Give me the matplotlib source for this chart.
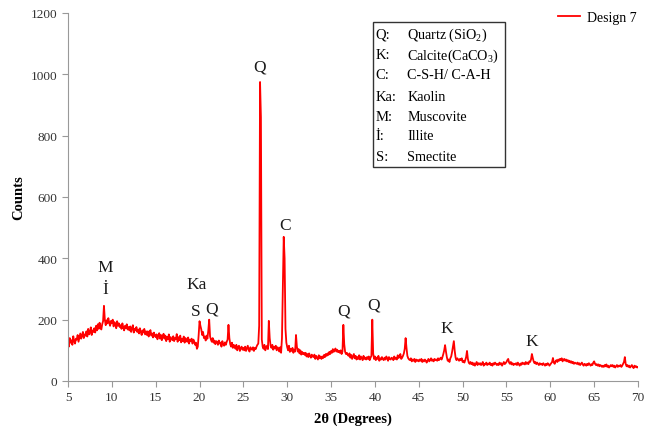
import numpy as np
import matplotlib
matplotlib.use("Agg")
import matplotlib.pyplot as plt
from matplotlib.patches import Rectangle

plt.rcParams["font.family"] = ["Liberation Serif", "DejaVu Serif"]
plt.rcParams["mathtext.fontset"] = "custom"
plt.rcParams["mathtext.rm"] = "Liberation Serif"

# XRD pattern, Design 7 -- 2theta grid from 5 to 70 deg in 0.1 deg steps
theta_start = 5.0
theta_step = 0.1
counts = [
    128, 112, 140, 125, 133, 118, 146, 130, 122, 138,   # 5
    135, 150, 128, 142, 155, 138, 148, 160, 140, 152,   # 6
    148, 162, 145, 170, 152, 158, 175, 150, 165, 160,   # 7
    172, 158, 180, 165, 185, 170, 190, 175, 168, 185,   # 8
    195, 245, 200, 182, 198, 188, 205, 190, 180, 196,   # 9
    188, 200, 178, 192, 185, 172, 195, 180, 188, 176,   # 10
    182, 170, 188, 175, 165, 180, 172, 185, 168, 176,   # 11
    165, 178, 160, 172, 182, 158, 170, 165, 176, 160,   # 12
    168, 155, 172, 160, 150, 165, 158, 170, 152, 162,   # 13
    150, 162, 145, 158, 166, 148, 155, 142, 158, 148,   # 14
    143, 152, 136, 148, 156, 138, 150, 133, 146, 154,   # 15
    138, 148, 130, 144, 136, 152, 128, 143, 138, 133,   # 16
    146, 130, 140, 136, 153, 128, 143, 133, 148, 126,   # 17
    138, 130, 145, 125, 140, 132, 128, 142, 122, 135,   # 18
    130, 138, 122, 135, 128, 118, 125, 105, 112, 150,   # 19
    195, 180, 168, 150, 160, 140, 145, 132, 148, 138,   # 20
    165, 200, 145, 135, 128, 140, 125, 132, 120, 130,   # 21
    128, 118, 132, 122, 125, 112, 130, 120, 115, 126,   # 22
    118, 128, 135, 183, 140, 120, 112, 125, 108, 118,   # 23
    112, 105, 118, 100, 110, 115, 98, 108, 112, 102,    # 24
    108, 100, 112, 98, 106, 115, 102, 96, 110, 104,     # 25
    102, 110, 98, 108, 104, 112, 118, 122, 180, 975,    # 26
    860, 135, 112, 105, 118, 100, 110, 115, 104, 196,   # 27
    140, 115, 108, 118, 102, 112, 106, 115, 100, 110,   # 28
    104, 96, 110, 92, 140, 300, 470, 400, 170, 125,     # 29
    110, 100, 115, 95, 105, 98, 108, 92, 102, 96,       # 30
    150, 112, 96, 104, 90, 100, 86, 95, 88, 92,         # 31
    85, 92, 80, 88, 78, 90, 82, 76, 86, 80,             # 32
    78, 86, 72, 82, 76, 70, 84, 74, 80, 72,             # 33
    80, 75, 85, 78, 88, 82, 90, 85, 95, 88,             # 34
    98, 92, 104, 95, 100, 106, 96, 102, 94, 98,         # 35
    92, 100, 88, 96, 183, 120, 95, 88, 92, 85,          # 36
    82, 90, 76, 85, 72, 80, 88, 74, 82, 70,             # 37
    78, 72, 84, 70, 80, 74, 68, 82, 72, 76,             # 38
    70, 78, 72, 80, 68, 76, 82, 200, 90, 72,            # 39
    80, 68, 76, 72, 82, 66, 74, 70, 78, 72,             # 40
    68, 76, 70, 80, 74, 66, 78, 72, 70, 76,             # 41
    74, 68, 80, 72, 76, 70, 84, 75, 80, 88,             # 42
    72, 76, 82, 90, 105, 140, 108, 82, 74, 70,          # 43
    68, 74, 64, 70, 66, 72, 62, 70, 66, 68,             # 44
    64, 70, 66, 72, 62, 68, 64, 70, 66, 60,             # 45
    66, 72, 64, 68, 74, 66, 70, 64, 72, 68,             # 46
    70, 66, 74, 68, 72, 76, 70, 78, 88, 100,            # 47
    117, 96, 78, 66, 70, 62, 74, 80, 95, 112,           # 48
    130, 98, 76, 68, 74, 70, 66, 72, 68, 74,            # 49
    62, 66, 60, 68, 78, 98, 72, 60, 56, 62,             # 50
    55, 60, 52, 58, 50, 56, 62, 52, 58, 54,             # 51
    58, 52, 56, 62, 50, 56, 54, 60, 52, 57,             # 52
    54, 60, 52, 56, 50, 58, 54, 60, 56, 52,             # 53
    56, 52, 60, 54, 58, 50, 56, 62, 55, 58,             # 54
    62, 68, 72, 60, 56, 62, 54, 58, 52, 56,             # 55
    54, 58, 52, 60, 55, 50, 57, 53, 60, 56,             # 56
    58, 54, 62, 56, 60, 55, 64, 62, 70, 88,             # 57
    75, 64, 58, 62, 55, 60, 56, 52, 58, 54,             # 58
    56, 52, 58, 54, 50, 56, 52, 58, 55, 50,             # 59
    54, 58, 62, 75, 60, 56, 64, 68, 62, 70,             # 60
    66, 72, 68, 74, 64, 70, 72, 66, 70, 64,             # 61
    68, 62, 66, 60, 64, 58, 62, 56, 60, 58,             # 62
    56, 60, 54, 58, 52, 56, 60, 54, 50, 56,             # 63
    54, 50, 56, 52, 58, 54, 50, 55, 52, 60,             # 64
    64, 56, 52, 55, 50, 54, 48, 52, 50, 46,             # 65
    50, 46, 52, 48, 54, 46, 50, 44, 48, 52,             # 66
    48, 52, 46, 50, 44, 48, 52, 46, 50, 48,             # 67
    52, 46, 50, 56, 62, 78, 55, 48, 52, 46,             # 68
    50, 44, 48, 52, 46, 42, 50, 46, 48, 44,             # 69
    45,                                                 # 70
]

# phase labels over the peaks
peak_labels = ["M", "İ", "Ka", "S", "Q", "Q", "C", "Q", "Q", "K", "K"]
peak_label_x = [9.2, 9.2, 19.7, 19.6, 21.4, 26.9, 29.7, 36.4, 39.8, 48.2, 57.9]
peak_label_y = [372, 300, 316, 228, 235, 1027, 509, 231, 251, 173, 130]

phase_symbols = ["Q:", "K:", "C:", "Ka:", "M:", "İ:", "S:"]
phase_names = ["Quartz (SiO$_2$)", "Calcite(CaCO$_3$)", "C-S-H/ C-A-H",
               "Kaolin", "Muscovite", "Illite", "Smectite"]

x_ticks = list(range(5, 71, 5))
y_ticks = list(range(0, 1201, 200))

two_theta = theta_start + theta_step * np.arange(len(counts))

fig = plt.figure(figsize=(6.54, 4.39), dpi=100)
ax = fig.add_axes([68 / 654, 1 - 382 / 439, 570 / 654, 368 / 439])

ax.plot(two_theta, counts, color="#ff0000", lw=1.3, label="Design 7")

ax.set_xlim(5, 70)
ax.set_ylim(0, 1200)
ax.set_xticks(x_ticks)
ax.set_yticks(y_ticks)
ax.tick_params(labelsize=9.5, colors="#333333", length=4, color="#999999")
for side in ["top", "right"]:
    ax.spines[side].set_visible(False)
for side in ["left", "bottom"]:
    ax.spines[side].set_color("#999999")

ax.set_xlabel("2θ (Degrees)", fontsize=10.5, fontweight="bold", labelpad=6)
ax.set_ylabel("Counts", fontsize=10.5, fontweight="bold", labelpad=4)

for lab, lx, ly in zip(peak_labels, peak_label_x, peak_label_y):
    ax.text(lx, ly, lab, fontsize=12.5, ha="center", va="center", color="#1a1a1a")

leg = ax.legend(loc="upper right", bbox_to_anchor=(1.02, 1.04), frameon=False,
                fontsize=10, handlelength=1.6, handletextpad=0.5)

# phase key box
ax.add_patch(Rectangle((0.535, 0.582), 0.232, 0.394, transform=ax.transAxes,
                       fill=False, lw=1.0, edgecolor="#333333"))
row_y = [0.943, 0.886, 0.832, 0.774, 0.720, 0.666, 0.611]
for sym, name, ry in zip(phase_symbols, phase_names, row_y):
    ax.text(0.540, ry, sym, transform=ax.transAxes, fontsize=10.5, va="center")
    ax.text(0.595, ry, name, transform=ax.transAxes, fontsize=10.2, va="center")

fig.savefig("out.png", dpi=100)
